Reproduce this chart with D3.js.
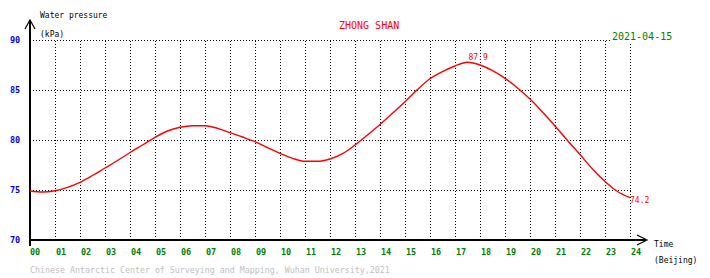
<!DOCTYPE html>
<html>
  <head>
    <title>Water pressure - ZHONG SHAN</title>
    <script src="https://d3js.org/d3.v7.min.js"></script>
    <style>
      body { margin: 0; background: #fff; }
      text { font-family: "DejaVu Sans Mono", monospace; }
    </style>
  </head>
  <body>
    <svg width="710" height="278"></svg>
    <script>
      // readings taken off the tide gauge plot (hour of day, kPa)
      var hours = [0, 0.5, 1, 1.5, 2, 2.5, 3, 3.5, 4, 4.5, 5, 5.5, 6, 6.5, 7, 7.5, 8, 8.5, 9, 9.5,
                   10, 10.5, 11, 11.5, 12, 12.5, 13, 13.5, 14, 14.5, 15, 15.5, 16, 16.5, 17, 17.5,
                   18, 18.5, 19, 19.5, 20, 20.5, 21, 21.5, 22, 22.5, 23, 23.5, 24];
      var pressure = [74.9, 74.8, 74.93, 75.27, 75.77, 76.45, 77.2, 77.95, 78.75, 79.5, 80.27, 80.9,
                      81.27, 81.43, 81.43, 81.17, 80.73, 80.3, 79.83, 79.23, 78.67, 78.17, 77.87,
                      77.87, 78.1, 78.63, 79.5, 80.5, 81.55, 82.67, 83.83, 85.05, 86.12, 86.83, 87.4,
                      87.77, 87.5, 86.93, 86.17, 85.2, 84.1, 82.8, 81.4, 79.95, 78.55, 77.1, 75.85,
                      74.85, 74.23];
      var yTicks = [70, 75, 80, 85, 90];
      var xTicks = d3.range(0, 25);
      var maxLabel = { hour: 17.5, value: 87.9 };
      var lastLabel = { hour: 24, value: 74.2 };

      var svg = d3.select("svg");

      var x = d3.scaleLinear().domain([0, 24]).range([30, 630]);
      var y = d3.scaleLinear().domain([70, 90]).range([240, 40]);

      // dotted grid
      var grid = svg.append("g")
        .attr("stroke", "#000")
        .attr("stroke-width", 1)
        .attr("stroke-dasharray", "1,2")
        .attr("shape-rendering", "crispEdges");

      grid.selectAll(".vgrid")
        .data(xTicks.slice(1))
        .enter().append("line")
        .attr("x1", function (d) { return Math.round(x(d)) + 0.5; })
        .attr("x2", function (d) { return Math.round(x(d)) + 0.5; })
        .attr("y1", y(90) + 0.5)
        .attr("y2", y(70));

      grid.selectAll(".hgrid")
        .data(yTicks.slice(1))
        .enter().append("line")
        .attr("x1", x(0))
        .attr("x2", x(24) + 1)
        .attr("y1", function (d) { return Math.round(y(d)) + 0.5; })
        .attr("y2", function (d) { return Math.round(y(d)) + 0.5; });

      // axes with arrows
      var axes = svg.append("g")
        .attr("stroke", "#000")
        .attr("fill", "none")
        .attr("shape-rendering", "crispEdges");

      axes.append("line")
        .attr("x1", x(0)).attr("x2", x(0))
        .attr("y1", 20).attr("y2", 246)
        .attr("stroke-width", 2);
      axes.append("line")
        .attr("x1", x(0) - 1).attr("x2", 646)
        .attr("y1", y(70)).attr("y2", y(70))
        .attr("stroke-width", 2);

      axes.append("path")
        .attr("shape-rendering", "auto")
        .attr("stroke-width", 1.2)
        .attr("d", "M" + (x(0) - 5) + ",29L" + x(0) + ",20L" + (x(0) + 5) + ",29");
      axes.append("path")
        .attr("shape-rendering", "auto")
        .attr("stroke-width", 1.2)
        .attr("d", "M637,235L647," + y(70) + "L637,245");

      // tick labels
      svg.selectAll(".ylab")
        .data(yTicks)
        .enter().append("text")
        .attr("x", 10)
        .attr("y", function (d) { return y(d) + 3; })
        .attr("fill", "#0000ff")
        .attr("font-size", "8.5px")
        .attr("font-weight", "bold")
        .text(function (d) { return d; });

      svg.selectAll(".xlab")
        .data(xTicks)
        .enter().append("text")
        .attr("x", function (d) { return x(d) + (d === 0 ? 0 : 1); })
        .attr("y", 255)
        .attr("fill", "#008000")
        .attr("font-size", "8.5px")
        .attr("font-weight", "bold")
        .text(function (d) { return d3.format("02d")(d); });

      // axis titles
      svg.append("text").attr("x", 40).attr("y", 18).attr("font-size", "8px")
        .attr("fill", "#000").text("Water pressure");
      svg.append("text").attr("x", 40).attr("y", 37).attr("font-size", "8px")
        .attr("fill", "#000").text("(kPa)");
      svg.append("text").attr("x", 654).attr("y", 247).attr("font-size", "8px")
        .attr("fill", "#000").text("Time");
      svg.append("text").attr("x", 654).attr("y", 263).attr("font-size", "8px")
        .attr("fill", "#000").text("(Beijing)");

      // station name and date
      svg.append("text").attr("x", 339).attr("y", 29).attr("font-size", "10px")
        .attr("fill", "#ff0000").text("ZHONG SHAN");
      svg.append("rect").attr("x", 611).attr("y", 30).attr("width", 62).attr("height", 12)
        .attr("fill", "#fff");
      svg.append("text").attr("x", 612).attr("y", 40).attr("font-size", "10px")
        .attr("fill", "#008000").text("2021-04-15");

      // pressure curve
      var line = d3.line()
        .x(function (d, i) { return x(hours[i]); })
        .y(function (d) { return y(d); })
        .curve(d3.curveMonotoneX);

      svg.append("path")
        .datum(pressure)
        .attr("fill", "none")
        .attr("stroke", "#ff0000")
        .attr("stroke-width", 1.4)
        .attr("d", line);

      // value labels
      svg.append("text")
        .attr("x", x(maxLabel.hour) + 1)
        .attr("y", y(maxLabel.value) - 1)
        .attr("font-size", "8px")
        .attr("fill", "#ff0000")
        .text(maxLabel.value.toFixed(1));
      svg.append("text")
        .attr("x", x(lastLabel.hour))
        .attr("y", y(lastLabel.value) + 5)
        .attr("font-size", "8px")
        .attr("fill", "#ff0000")
        .text(lastLabel.value.toFixed(1));

      // footer
      svg.append("text").attr("x", 30).attr("y", 273).attr("font-size", "8.3px")
        .attr("fill", "#c0c0c0")
        .text("Chinese Antarctic Center of Surveying and Mapping, Wuhan University,2021");
    </script>
  </body>
</html>
